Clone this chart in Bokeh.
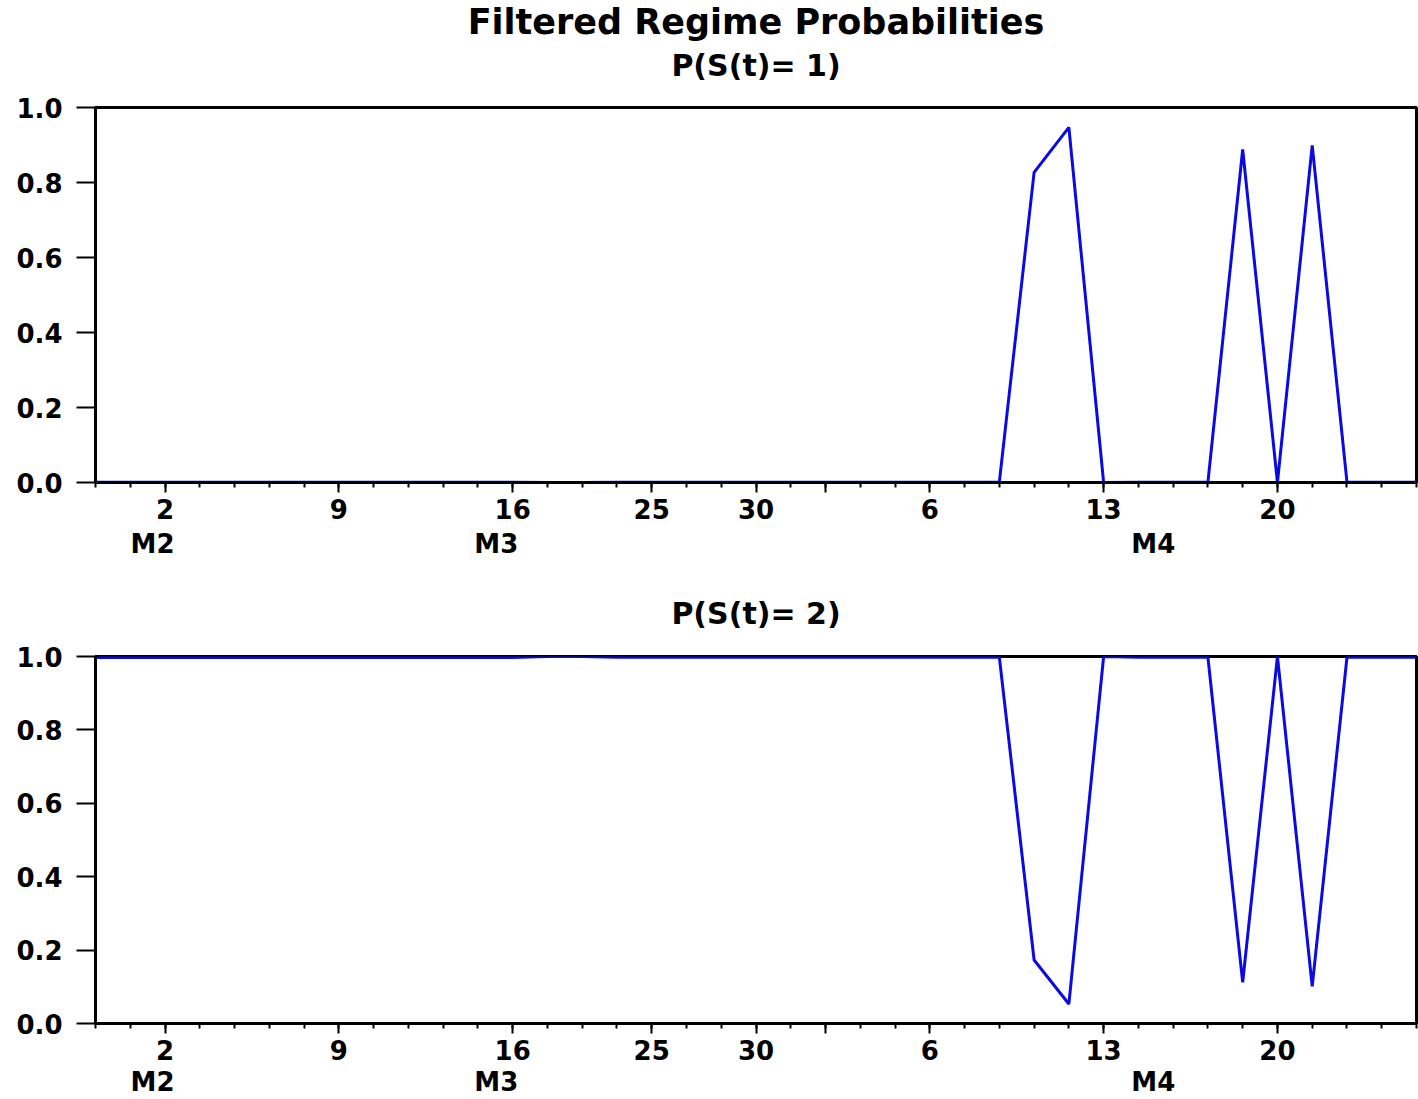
from bokeh.plotting import figure
from bokeh.models import FixedTicker, LinearAxis, Range1d, Title, PrintfTickFormatter
from bokeh.layouts import column
from bokeh.embed import file_html
from bokeh.resources import INLINE

# ---------------- data ----------------
obs_index = list(range(39))
tick_index = [2, 7, 12, 16, 19, 21, 24, 29, 34]
tick_labels = ["2", "9", "16", "25", "30", "", "6", "13", "20"]
month_labels = ["M2", "M3", "M4"]
month_pos = [1.64, 11.53, 30.43]
y_ticks = [0.0, 0.2, 0.4, 0.6, 0.8, 1.0]

prob_s1 = [0.001, 0.001, 0.001, 0.001, 0.001, 0.001, 0.001, 0.001, 0.001, 0.001,
           0.001, 0.001, 0.001, 0.0, 0.0, 0.001, 0.001, 0.001, 0.001, 0.001,
           0.001, 0.001, 0.001, 0.001, 0.001, 0.001, 0.001, 0.827, 0.947, 0.0,
           0.001, 0.001, 0.001, 0.888, 0.0, 0.899, 0.001, 0.001, 0.001]
prob_s2 = [0.997, 0.997, 0.997, 0.997, 0.997, 0.997, 0.997, 0.997, 0.997, 0.997,
           0.997, 0.997, 0.997, 1.0, 1.0, 0.998, 0.998, 0.998, 0.998, 0.998,
           0.998, 0.998, 0.998, 0.998, 0.998, 0.998, 0.998, 0.173, 0.053, 1.0,
           0.998, 0.998, 0.998, 0.112, 1.0, 0.101, 0.998, 0.998, 0.998]

FONT = "DejaVu Sans"
LINE_COLOR = "#0a0ae6"
TICK_FS = "26px"


def make_panel(vals, subtitle, height, top, bottom, month_standoff, sub_standoff,
               main_title=None):
    p = figure(width=1418, height=height,
               x_range=Range1d(obs_index[0], obs_index[-1]), y_range=Range1d(0, 1),
               output_backend="svg", toolbar_location=None,
               min_border_left=95, min_border_right=2,
               min_border_top=top, min_border_bottom=bottom)
    p.grid.visible = False
    p.outline_line_color = "black"
    p.outline_line_width = 3
    p.outline_line_alpha = 1.0

    p.line(obs_index, vals, line_color=LINE_COLOR, line_width=3)

    xa = p.xaxis[0]
    xa.ticker = FixedTicker(ticks=tick_index, minor_ticks=obs_index)
    xa.major_label_overrides = {i: l for i, l in zip(tick_index, tick_labels)}
    xa.axis_line_width = 3
    xa.major_tick_line_width = 2
    xa.minor_tick_line_width = 2
    xa.major_tick_out = 10
    xa.major_tick_in = 0
    xa.minor_tick_out = 5
    xa.minor_tick_in = 0
    xa.major_label_standoff = 6
    xa.major_label_text_font = FONT
    xa.major_label_text_font_style = "bold"
    xa.major_label_text_font_size = TICK_FS
    xa.major_label_text_color = "black"

    ma = LinearAxis(ticker=FixedTicker(ticks=month_pos, minor_ticks=[]))
    ma.major_label_overrides = {m: l for m, l in zip(month_pos, month_labels)}
    ma.axis_line_color = None
    ma.major_tick_line_color = None
    ma.minor_tick_line_color = None
    ma.major_tick_out = 0
    ma.major_tick_in = 0
    ma.major_label_standoff = month_standoff
    ma.major_label_text_font = FONT
    ma.major_label_text_font_style = "bold"
    ma.major_label_text_font_size = TICK_FS
    ma.major_label_text_color = "black"
    p.add_layout(ma, "below")

    ya = p.yaxis[0]
    ya.ticker = FixedTicker(ticks=y_ticks, minor_ticks=[])
    ya.formatter = PrintfTickFormatter(format="%.1f")
    ya.axis_line_width = 3
    ya.major_tick_line_width = 2
    ya.major_tick_out = 19
    ya.major_tick_in = 0
    ya.minor_tick_line_color = None
    ya.major_label_standoff = 14
    ya.major_label_text_font = FONT
    ya.major_label_text_font_style = "bold"
    ya.major_label_text_font_size = TICK_FS
    ya.major_label_text_color = "black"

    p.add_layout(Title(text=subtitle, align="center", standoff=sub_standoff,
                       text_font=FONT, text_font_style="bold",
                       text_font_size="30px", text_color="black"), "above")
    if main_title:
        p.add_layout(Title(text=main_title, align="center", standoff=-41,
                           text_font=FONT, text_font_style="bold",
                           text_font_size="35px", text_color="black"), "above")
    return p


p1 = make_panel(prob_s1, "P(S(t)= 1)", 568, 107, 86, 7, 49,
                main_title="Filtered Regime Probabilities")
p2 = make_panel(prob_s2, "P(S(t)= 2)", 531, 88, 70, 4, 51)

layout = column(p1, p2, spacing=0)
open("out.html", "w").write(file_html(layout, INLINE))
